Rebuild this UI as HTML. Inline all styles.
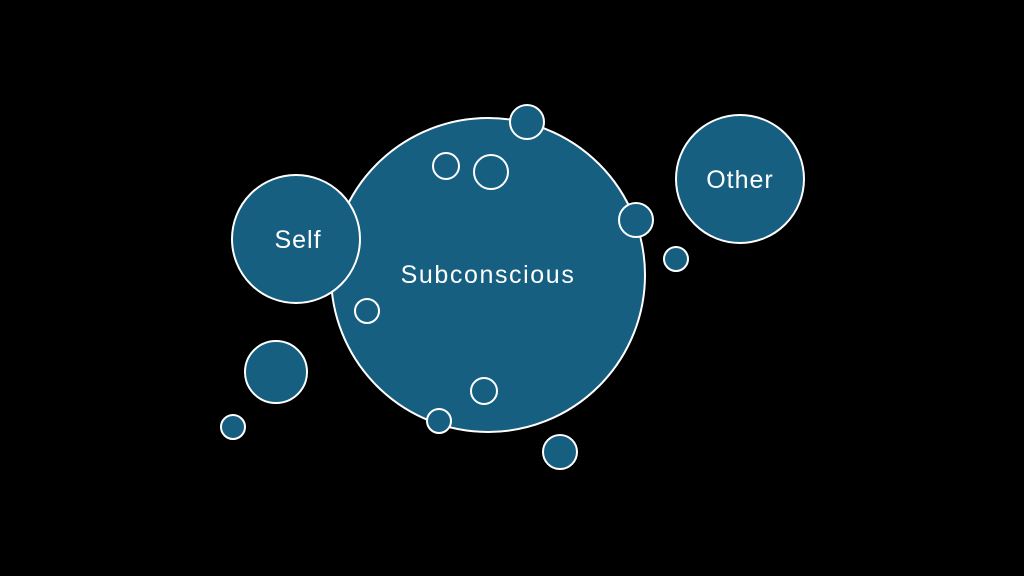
<!DOCTYPE html>
<html><head><style>html,body{margin:0;padding:0;background:#000;width:1024px;height:576px;overflow:hidden}</style></head>
<body>
<svg width="1024" height="576" xmlns="http://www.w3.org/2000/svg">
<rect width="1024" height="576" fill="#000"/>
<g fill="#165f80" stroke="#fff" stroke-width="2">
<circle cx="488" cy="275" r="157"/>
<circle cx="296" cy="239" r="64"/>
<circle cx="740" cy="179" r="64"/>
<circle cx="527" cy="122" r="17"/>
<circle cx="446" cy="166" r="13"/>
<circle cx="491" cy="172" r="17"/>
<circle cx="636" cy="220" r="17"/>
<circle cx="676" cy="259" r="12"/>
<circle cx="367" cy="311" r="12"/>
<circle cx="484" cy="391" r="13"/>
<circle cx="439" cy="421" r="12"/>
<circle cx="560" cy="452" r="17"/>
<circle cx="276" cy="372" r="31"/>
<circle cx="233" cy="427" r="12"/>
</g>
<g fill="#fff" font-family="Liberation Sans, sans-serif" font-size="25" text-anchor="middle">
<text x="488" y="283" letter-spacing="1.6">Subconscious</text>
<text x="298" y="248" letter-spacing="1">Self</text>
<text x="740" y="188" letter-spacing="1">Other</text>
</g>
</svg>
</body></html>
